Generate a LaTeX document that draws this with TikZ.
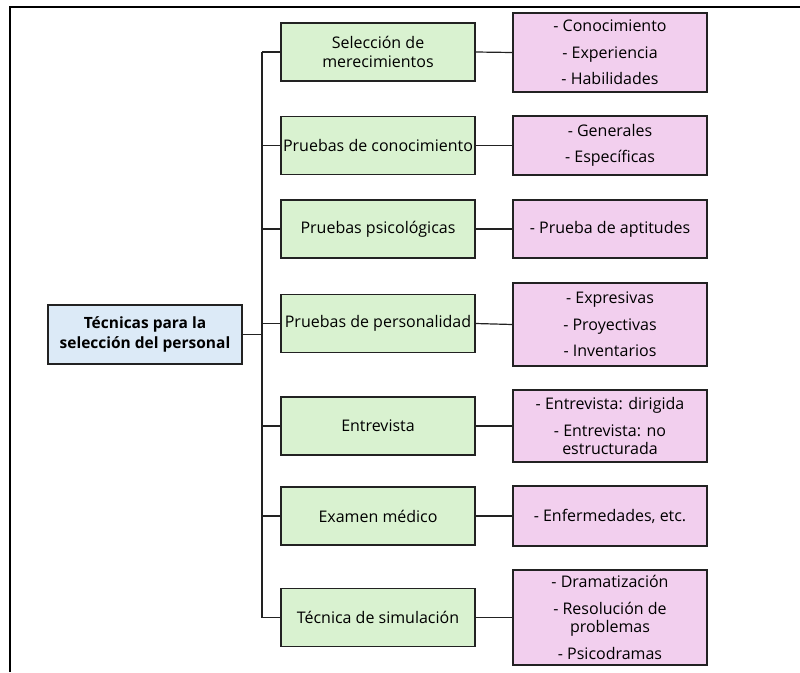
\documentclass[tikz,border=0pt]{standalone}
\usepackage{fontspec}
\setmainfont{Open Sans}
\definecolor{rootfill}{HTML}{DCEAF7}
\definecolor{techfill}{HTML}{D9F2D0}
\definecolor{itemfill}{HTML}{F2CFEE}
\definecolor{edge}{HTML}{222222}

\newcommand{\BoxW}{194}
\newcommand{\BoxH}{58}
\newcommand{\TrunkX}{262}
\newcommand{\TechX}{378}
\newcommand{\ItemX}{610}
\newcommand{\ItemGap}{8pt}

\begin{document}
\begin{tikzpicture}[
  x = 1pt, y = -1pt,
  frame/.style={line width=2pt,black},
  box/.style={draw=edge,line width=1.3pt,minimum width=\BoxW pt,minimum height=\BoxH pt,
    inner xsep=1pt,inner ysep=2pt,align=center,font=\fontsize{16}{18.5}\selectfont},
  rootbox/.style={box,fill=rootfill,font=\fontsize{15.5}{20}\selectfont\bfseries},
  techbox/.style={box,fill=techfill},
  itembox/.style={box,fill=itemfill},
  link/.style={line width=1.2pt,edge}
  ]

	%fix the page
	\useasboundingbox (0,0) rectangle (800,672);

	%draw the frame (only its top and left sides show)
	\draw[frame] (10,672) -- (10,7) -- (800,7);

	%draw the root
	\node[rootbox,minimum height=59pt] (root) at (145,334.5) {Técnicas para la\\selección del personal};

	%draw the techniques
	\node[techbox] (sel) at (\TechX,52) {Selección de\\merecimientos};
	\node[techbox] (con) at (\TechX,145.5) {Pruebas de conocimiento};
	\node[techbox] (psi) at (\TechX,229) {Pruebas psicológicas};
	\node[techbox] (per) at (\TechX,323.5) {Pruebas de personalidad};
	\node[techbox] (ent) at (\TechX,426) {Entrevista};
	\node[techbox] (med) at (\TechX,516) {Examen médico};
	\node[techbox] (sim) at (\TechX,617.5) {Técnica de simulación};

	%draw the items
	\node[itembox,minimum height=79pt] (selitems) at (\ItemX,52.5) {- Conocimiento\\[\ItemGap]- Experiencia\\[\ItemGap]- Habilidades};
	\node[itembox,minimum height=59pt] (conitems) at (\ItemX,145.5) {- Generales\\[\ItemGap]- Específicas};
	\node[itembox] (psiitems) at (\ItemX,229) {- Prueba de aptitudes};
	\node[itembox,minimum height=83pt] (peritems) at (\ItemX,324.5) {- Expresivas\\[\ItemGap]- Proyectivas\\[\ItemGap]- Inventarios};
	\node[itembox,minimum height=72pt] (entitems) at (\ItemX,426) {- Entrevista: dirigida\\[\ItemGap]- Entrevista: no\\estructurada};
	\node[itembox,minimum height=95pt] (simitems) at (\ItemX,617.5) {- Dramatización\\[\ItemGap]- Resolución de\\problemas\\[\ItemGap]- Psicodramas};
	\node[itembox,minimum height=60pt] (meditems) at (\ItemX,516) {- Enfermedades, etc.};

	%draw the trunk
	\coordinate (trunktop) at (\TrunkX,52);
	\coordinate (trunkbot) at (\TrunkX,617.5);
	\draw[link] (trunktop) -- (trunkbot);
	\draw[link] (root.east) -- (root.east -| trunktop);

	%draw the branches
	\draw[link] (sel.west) -- (sel.west -| trunktop);
	\draw[link] (con.west) -- (con.west -| trunktop);
	\draw[link] (psi.west) -- (psi.west -| trunktop);
	\draw[link] (per.west) -- (per.west -| trunktop);
	\draw[link] (ent.west) -- (ent.west -| trunktop);
	\draw[link] (med.west) -- (med.west -| trunktop);
	\draw[link] (sim.west) -- (sim.west -| trunktop);

	%draw the links to the items
	\draw[link] (sel.east) -- (selitems.west);
	\draw[link] (con.east) -- (conitems.west);
	\draw[link] (psi.east) -- (psiitems.west);
	\draw[link] (per.east) -- (peritems.west);
	\draw[link] (ent.east) -- (entitems.west);
	\draw[link] (med.east) -- (meditems.west);
	\draw[link] (sim.east) -- (simitems.west);

\end{tikzpicture}
\end{document}
